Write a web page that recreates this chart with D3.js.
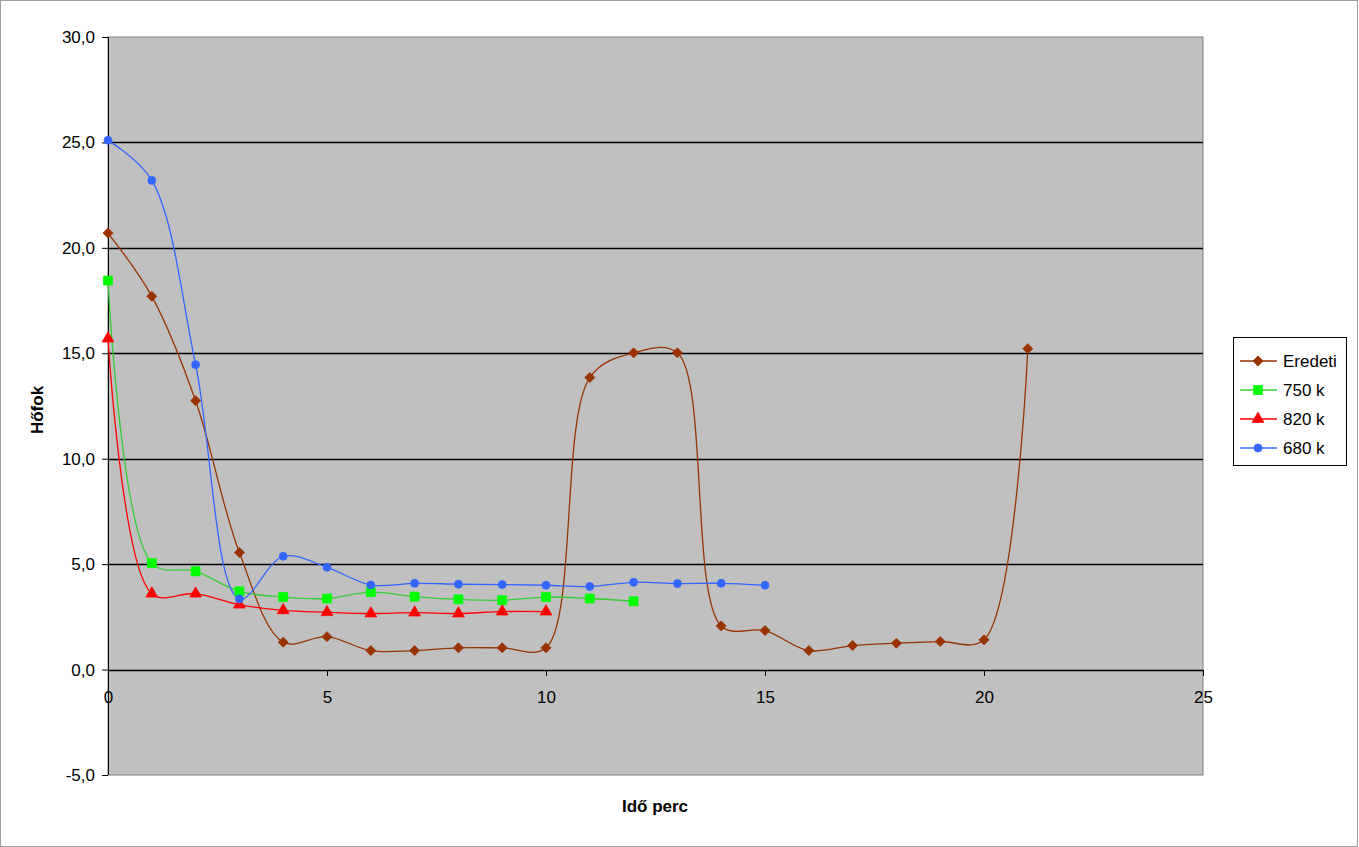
<!DOCTYPE html>
<html><head><meta charset="utf-8">
<script src="https://cdn.jsdelivr.net/npm/d3@7"></script>
<style>
html,body{margin:0;padding:0;background:#fff;}
svg{display:block;font-family:"Liberation Sans",Arial,sans-serif;}
</style></head>
<body>
<svg id="c" width="1359" height="847"></svg>
<script>
const eredetiX = [0,1,2,3,4,5,6,7,8,9,10,11,12,13,14,15,16,17,18,19,20,21];
const eredetiY = [20.7,17.7,12.75,5.55,1.3,1.56,0.9,0.9,1.03,1.03,1.03,13.85,15.02,15.02,2.07,1.85,0.9,1.14,1.25,1.33,1.41,15.22];
const k750X = [0,1,2,3,4,5,6,7,8,9,10,11,12];
const k750Y = [18.45,5.05,4.66,3.71,3.44,3.37,3.67,3.46,3.33,3.29,3.44,3.37,3.24];
const k820X = [0,1,2,3,4,5,6,7,8,9,10];
const k820Y = [15.7,3.6,3.6,3.08,2.81,2.72,2.66,2.7,2.66,2.75,2.75];
const k680X = [0,1,2,3,4,5,6,7,8,9,10,11,12,13,14,15];
const k680Y = [25.1,23.2,14.46,3.35,5.37,4.85,4.01,4.09,4.05,4.03,4.0,3.94,4.14,4.08,4.09,4.0];
const seriesNames = ["Eredeti","750 k","820 k","680 k"];
const yTicks = [-5,0,5,10,15,20,25,30];
const xTicks = [0,5,10,15,20,25];

const series = [
  {name:seriesNames[0], xs:eredetiX, ys:eredetiY, line:"#993300", fill:"#993300", sym:d3.symbolSquare, size:50, rot:45},
  {name:seriesNames[1], xs:k750X, ys:k750Y, line:"#33CC33", fill:"#00FF00", sym:d3.symbolSquare, size:80, rot:0},
  {name:seriesNames[2], xs:k820X, ys:k820Y, line:"#FF0000", fill:"#FF0000", sym:d3.symbolTriangle, size:60, rot:0},
  {name:seriesNames[3], xs:k680X, ys:k680Y, line:"#3366FF", fill:"#3366FF", sym:d3.symbolCircle, size:50, rot:0}
];

const svg = d3.select("#c");
const L=108, R=1203, T=37, B=775;
const x = d3.scaleLinear().domain([0,25]).range([L,R]);
const y = d3.scaleLinear().domain([-5,30]).range([B,T]);
const fmt = v => (v<0?"-":"") + Math.abs(v).toFixed(1).replace(".",",");

// chart border
svg.append("rect").attr("x",0.5).attr("y",0.5).attr("width",1357).attr("height",846)
  .attr("fill","#fff").attr("stroke","#a0a0a0");

// plot area
svg.append("rect").attr("x",L).attr("y",T).attr("width",R-L).attr("height",B-T)
  .attr("fill","#C0C0C0").attr("stroke","#808080").attr("stroke-width",1);

// gridlines
svg.append("g").selectAll("line").data(yTicks.filter(v=>v>-5 && v<30)).join("line")
  .attr("x1",L).attr("x2",R).attr("y1",d=>Math.round(y(d))+0.5).attr("y2",d=>Math.round(y(d))+0.5)
  .attr("stroke","#000").attr("stroke-width",1.3);

// y axis
const ya = svg.append("g").attr("transform",`translate(${L},0)`)
  .call(d3.axisLeft(y).tickValues(yTicks).tickFormat(fmt).tickSize(6).tickPadding(7));
ya.select(".domain").attr("stroke","#000").attr("d",`M0.5,${T}V${B}`);
ya.selectAll("text").attr("font-size",17).attr("fill","#000");

// x axis at y=0
const xa = svg.append("g").attr("transform",`translate(0,${Math.round(y(0))})`)
  .call(d3.axisBottom(x).tickValues(xTicks).tickFormat(d3.format("d")).tickSize(6).tickPadding(15));
xa.select(".domain").remove();
xa.selectAll("text").attr("font-size",17).attr("fill","#000");

// axis titles
svg.append("text").attr("x",655).attr("y",812).attr("text-anchor","middle")
  .attr("font-size",17).attr("font-weight","bold").text("Idő perc");
svg.append("text").attr("transform","translate(43,410) rotate(-90)").attr("text-anchor","middle")
  .attr("font-size",17).attr("font-weight","bold").text("Hőfok");

// lines
const line = d3.line().x(d=>x(d[0])).y(d=>y(d[1])).curve(d3.curveCatmullRom.alpha(0.5));
const plot = svg.append("g");
series.forEach(s=>{
  const pts = s.xs.map((xv,i)=>[xv,s.ys[i]]);
  plot.append("path").datum(pts).attr("d",line).attr("fill","none")
    .attr("stroke",s.line).attr("stroke-width",1.3);
});
series.forEach(s=>{
  const pts = s.xs.map((xv,i)=>[xv,s.ys[i]]);
  plot.append("g").selectAll("path").data(pts).join("path")
    .attr("transform",d=>`translate(${x(d[0])},${y(d[1])}) rotate(${s.rot})`)
    .attr("d",d3.symbol(s.sym,s.size)).attr("fill",s.fill).attr("stroke",s.fill).attr("stroke-width",0.8);
});

// legend
const lg = svg.append("g");
lg.append("rect").attr("x",1233.5).attr("y",337.5).attr("width",113).attr("height",128)
  .attr("fill","#fff").attr("stroke","#000");
series.forEach((s,i)=>{
  const cy = 361 + i*29;
  lg.append("line").attr("x1",1240).attr("x2",1277).attr("y1",cy).attr("y2",cy)
    .attr("stroke",s.line).attr("stroke-width",1.3);
  lg.append("path").attr("transform",`translate(1258,${cy}) rotate(${s.rot})`).attr("d",d3.symbol(s.sym,s.size))
    .attr("fill",s.fill).attr("stroke",s.fill).attr("stroke-width",0.8);
  lg.append("text").attr("x",1283).attr("y",cy).attr("dy","0.35em").attr("font-size",17).text(s.name);
});
</script>
</body></html>
